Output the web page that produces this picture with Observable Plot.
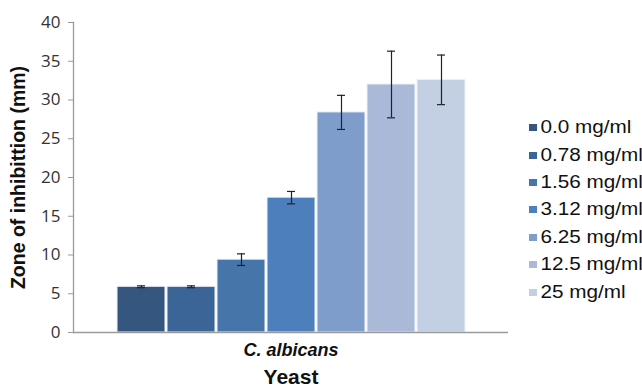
<!DOCTYPE html>
<html><head><meta charset="utf-8">
<script src="https://cdn.jsdelivr.net/npm/d3@7"></script>
<script src="https://cdn.jsdelivr.net/npm/@observablehq/plot@0.6"></script>
<style>
body{margin:0;background:#fff}
#c{position:relative;width:642px;height:390px;overflow:hidden}
#legend{position:absolute;left:529px;top:114px;font:18px "Liberation Sans",Arial,sans-serif;color:#111;transform:scaleX(1.15);transform-origin:0 0}
.item{display:flex;align-items:center;height:27.4px;white-space:nowrap}
.sw{width:7px;height:7px;margin-right:3px;flex:none}
</style></head>
<body><div id="c"></div>
<script>
const concentrations = ["0.0 mg/ml","0.78 mg/ml","1.56 mg/ml","3.12 mg/ml","6.25 mg/ml","12.5 mg/ml","25 mg/ml"];
const zones = [5.9, 5.9, 9.4, 17.4, 28.4, 32.0, 32.6];
const errors = [0.12, 0.12, 0.75, 0.8, 2.2, 4.3, 3.2];
const colors = ["#34567f","#3b6597","#4675aa","#4d7fbd","#7f9dcb","#a9b9d7","#c3cfe2"];
const yTicks = [0,5,10,15,20,25,30,35,40];
const organism = ["C. albicans"];
const xTitle = "Yeast";
const yTitle = "Zone of inhibittion (mm)";

const data = concentrations.map((c,i)=>({c, v: zones[i], e: errors[i]}));
const font = "'Liberation Sans', Arial, sans-serif";

const chart = Plot.plot({
  width: 642, height: 390,
  marginLeft: 73, marginRight: 134, marginTop: 22, marginBottom: 58,
  style: {background: "#fff", overflow: "visible"},
  x: {domain: concentrations, paddingInner: 0.04, paddingOuter: 0.785, axis: null},
  y: {domain: [0, 40], ticks: yTicks, label: null},
  color: {domain: concentrations, range: colors},
  marks: [
    Plot.barY(data, {x: "c", y: "v", fill: "c", stroke: "#eef2f8", strokeWidth: 1}),
    Plot.ruleX(data, {x: "c", y1: d => d.v - d.e, y2: d => d.v + d.e, stroke: "#1c2230", strokeWidth: 1.2}),
    Plot.tickY(data, {x: "c", y: d => d.v - d.e, stroke: "#1c2230", strokeWidth: 1.2, insetLeft: 20, insetRight: 20}),
    Plot.tickY(data, {x: "c", y: d => d.v + d.e, stroke: "#1c2230", strokeWidth: 1.2, insetLeft: 20, insetRight: 20}),
    Plot.ruleY([0], {stroke: "#9a9a9a", strokeWidth: 1.3}),
    Plot.frame({anchor: "left", stroke: "#9a9a9a", strokeWidth: 1.3}),
    Plot.axisY({ticks: yTicks, tickSize: 5, tickPadding: 8, stroke: "#9a9a9a", fill: "#333", fontSize: 17, fontFamily: "'Open Sans', sans-serif", label: null}),
    Plot.text(organism, {text: d => d, frameAnchor: "bottom", dy: 23, fontSize: 18, fontWeight: "bold", fontStyle: "italic", fontFamily: font, fill: "#111"}),
    Plot.text([xTitle], {text: d => d, frameAnchor: "bottom", dy: 51, fontSize: 21, fontWeight: "bold", fontFamily: font, fill: "#111"}),
    Plot.text([yTitle], {text: d => d, frameAnchor: "left", textAnchor: "middle", dx: -55, rotate: -90, fontSize: 19.5, fontWeight: "bold", fontFamily: font, fill: "#111"})
  ]
});
const c = document.getElementById("c");
c.appendChild(chart);
const legend = document.createElement("div");
legend.id = "legend";
concentrations.forEach((name, i) => {
  const item = document.createElement("div");
  item.className = "item";
  const sw = document.createElement("span");
  sw.className = "sw";
  sw.style.background = colors[i];
  const t = document.createElement("span");
  t.textContent = name;
  item.appendChild(sw); item.appendChild(t);
  legend.appendChild(item);
});
c.appendChild(legend);
</script>
</body></html>
